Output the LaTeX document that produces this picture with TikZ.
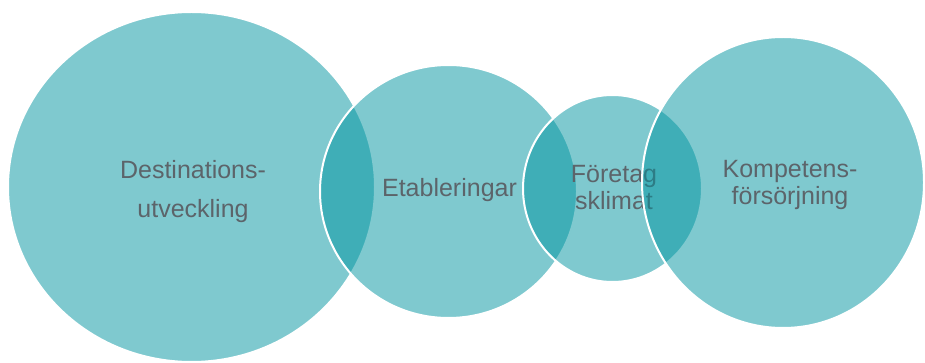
\documentclass[tikz,border=0pt]{standalone}
\usepackage{fontspec}
\setmainfont{Liberation Sans}
\usetikzlibrary{shapes.geometric}
\definecolor{tealfill}{RGB}{0,148,160}
\definecolor{textgray}{RGB}{92,100,106}

\begin{document}
\begin{tikzpicture}[x=1pt, y=-1pt,
    bubble/.style={ellipse, draw=white, line width=2pt, fill=tealfill, fill opacity=0.5, inner sep=0pt},
    caption/.style={text=textgray, align=center, inner sep=0pt, font=\fontsize{25}{27}\selectfont}]
    \useasboundingbox (0,0) rectangle (925,363);

    \node[bubble, minimum width=367pt, minimum height=350pt] (D) at (191.5,187) {};
    \node[caption] (Dtext) at (193,192) {Destinations-\\[12pt]utveckling};

    \node[bubble, minimum width=257pt, minimum height=253pt] (E) at (448.5,191.5) {};
    \node[caption] (Etext) at (449.5,190.5) {Etableringar};

    \node[bubble, minimum width=179pt, minimum height=187pt] (F) at (612.5,188.5) {};
    \node[caption] (Ftext) at (614,187.5) {Företag\\sklimat};

    \node[bubble, minimum width=282pt, minimum height=291pt] (K) at (783,182.5) {};
    \node[caption] (Ktext) at (790,185) {Kompetens-\\försörjning};
  \end{tikzpicture}
\end{document}
